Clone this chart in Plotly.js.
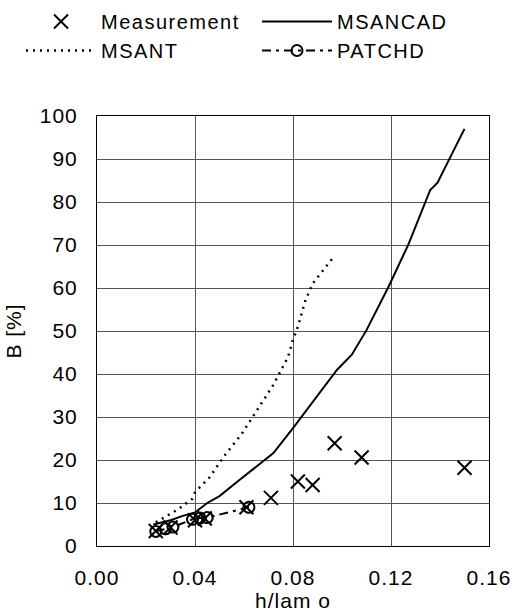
<!DOCTYPE html>
<html>
<head>
<meta charset="utf-8">
<script src="https://cdn.plot.ly/plotly-3.0.1.min.js"></script>
<style>
html,body{margin:0;padding:0;background:#fff;}
#chart{width:514px;height:613px;}
text{letter-spacing:1px;}
text.legendtext{letter-spacing:1.5px;}
</style>
</head>
<body>
<div id="chart"></div>
<script>
var measX = [0.024, 0.030, 0.040, 0.044, 0.061, 0.071, 0.082, 0.088, 0.097, 0.108, 0.150];
var measY = [3.5, 4.3, 6.0, 6.4, 9.0, 11.2, 15.0, 14.2, 23.9, 20.6, 18.2];

var msancadX = [0.023, 0.030, 0.035, 0.040, 0.045, 0.050, 0.058, 0.066, 0.072, 0.080, 0.086, 0.092, 0.098, 0.104, 0.110, 0.119, 0.127, 0.136, 0.139, 0.144, 0.150];
var msancadY = [5.0, 6.0, 7.0, 7.8, 10.0, 11.6, 15.3, 18.8, 21.6, 27.4, 32.0, 36.5, 41.0, 44.5, 50.2, 60.3, 70.0, 82.8, 84.5, 90.2, 97.0];

var msantX = [0.024, 0.033, 0.039, 0.040, 0.046, 0.052, 0.059, 0.063, 0.066, 0.072, 0.078, 0.080, 0.082, 0.085, 0.088, 0.092, 0.097];
var msantY = [5.5, 8.5, 11.0, 12.5, 16.0, 21.0, 26.0, 29.5, 32.0, 37.5, 44.0, 48.0, 51.0, 57.0, 61.0, 64.0, 67.5];

var patchX = [0.024, 0.028, 0.031, 0.039, 0.042, 0.045, 0.062];
var patchY = [3.4, 4.0, 4.4, 6.2, 6.5, 6.6, 9.0];

var xTicks = [0, 0.04, 0.08, 0.12, 0.16];
var xTickText = ['0.00', '0.04', '0.08', '0.12', '0.16'];
var yTicks = [0, 10, 20, 30, 40, 50, 60, 70, 80, 90, 100];

var FONT = 'Liberation Sans, Arial, sans-serif';

var traces = [
  {x: measX, y: measY, name: 'Measurement', type: 'scatter', mode: 'markers',
   marker: {symbol: 'x-thin-open', size: 14, color: '#000', line: {color: '#000', width: 2}}},
  {x: msancadX, y: msancadY, name: 'MSANCAD', type: 'scatter', mode: 'lines',
   line: {color: '#000', width: 2}},
  {x: msantX, y: msantY, name: 'MSANT', type: 'scatter', mode: 'lines',
   line: {color: '#000', width: 2.5, dash: '2px,5px'}},
  {x: patchX, y: patchY, name: 'PATCHD', type: 'scatter', mode: 'lines+markers',
   line: {color: '#000', width: 2, dash: '9px,5px,3px,5px'},
   marker: {symbol: 'circle-open', size: 11, color: '#000', line: {color: '#000', width: 2}}}
];

var layout = {
  width: 514, height: 613,
  margin: {l: 97, r: 25, t: 116, b: 67, autoexpand: false},
  paper_bgcolor: '#fff', plot_bgcolor: '#fff',
  font: {family: FONT, size: 21, color: '#000'},
  showlegend: true,
  legend: {
    orientation: 'h', xref: 'paper', yref: 'paper',
    x: (21 - 97) / 392, y: (546 - 2) / 430, xanchor: 'left', yanchor: 'top',
    itemwidth: 70, entrywidth: 151, entrywidthmode: 'pixels',
    font: {family: FONT, size: 20, color: '#000'},
    bgcolor: 'rgba(0,0,0,0)'
  },
  xaxis: {
    range: [0, 0.16], tickvals: xTicks, ticktext: xTickText,
    showgrid: true, gridcolor: '#555', gridwidth: 1,
    showline: true, mirror: true, linecolor: '#000', linewidth: 1,
    zeroline: false, ticks: '', ticklabelstandoff: 13,
    title: {text: 'h/lam o', font: {family: FONT, size: 21}, standoff: 2}
  },
  yaxis: {
    range: [0, 100], tickvals: yTicks,
    showgrid: true, gridcolor: '#555', gridwidth: 1,
    showline: true, mirror: true, linecolor: '#000', linewidth: 1,
    zeroline: false, ticks: '', ticklabelstandoff: 14,
    title: {text: 'B [%]', font: {family: FONT, size: 21}, standoff: 12}
  }
};

Plotly.newPlot('chart', traces, layout, {displayModeBar: false, staticPlot: true});
</script>
</body>
</html>
